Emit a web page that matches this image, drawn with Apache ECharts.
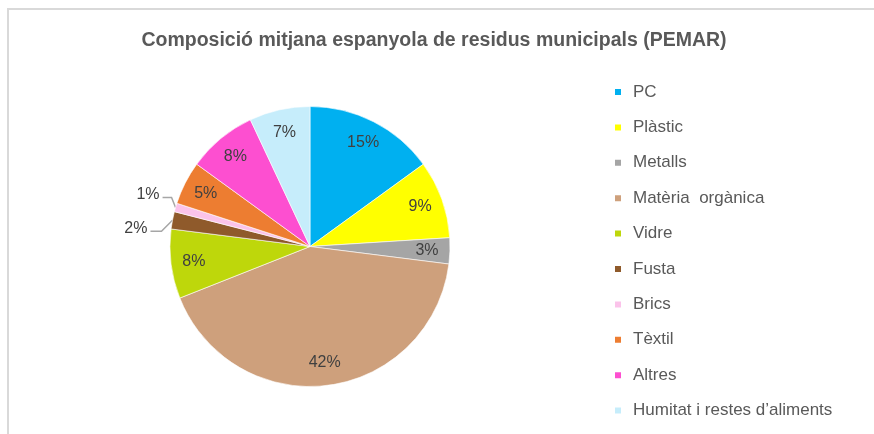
<!DOCTYPE html>
<html>
<head>
<meta charset="utf-8">
<script src="https://cdn.jsdelivr.net/npm/echarts@6/dist/echarts.min.js"></script>
<style>
  html, body { margin: 0; padding: 0; background: #fff; }
  #chart { width: 874px; height: 434px; }
</style>
</head>
<body>
<div id="chart"></div>
<script>
// categories i valors (%)
var categories = ['PC', 'Plàstic', 'Metalls', 'Matèria  orgànica', 'Vidre', 'Fusta', 'Brics', 'Tèxtil', 'Altres', 'Humitat i restes d\u2019aliments'];
var values = [15, 9, 3, 42, 8, 2, 1, 5, 8, 7];
var colors = ['#00b0f0', '#ffff00', '#a5a5a5', '#cea07c', '#bed70b', '#8f5a2b', '#fbc3ea', '#ed7d31', '#fd4fd0', '#c6edfb'];
// slices with the label outside
var outsideLabels = ['Fusta', 'Brics'];

var chart = echarts.init(document.getElementById('chart'));

var center = [310, 246.5];
var fontFamily = '"Liberation Sans", Arial, sans-serif';

var sliceData = categories.map(function (name, i) {
  return { name: name, value: values[i], itemStyle: { color: colors[i] } };
});

var labelData = categories.map(function (name, i) {
  var outside = outsideLabels.indexOf(name) >= 0;
  return {
    name: name,
    value: values[i],
    label: { position: outside ? 'outside' : 'inside' },
    labelLine: { show: outside }
  };
});

// leader line for the two small slices: bend offset from the slice edge, then horizontal length
var leaderBend = {
  'Brics': [-4, -10, 9],
  'Fusta': [-11, 11, 11]
};

chart.setOption({
  animation: false,
  title: {
    text: 'Composició mitjana espanyola de residus municipals (PEMAR)',
    left: 429,
    textAlign: 'center',
    top: 26,
    textStyle: {
      fontFamily: fontFamily,
      fontSize: 19.5,
      fontWeight: 'bold',
      color: '#595959'
    }
  },
  legend: {
    orient: 'vertical',
    left: 608,
    top: 77,
    itemWidth: 8,
    itemHeight: 8,
    itemGap: 15.4,
    icon: 'rect',
    selectedMode: false,
    data: categories,
    textStyle: {
      fontFamily: fontFamily,
      fontSize: 17,
      color: '#595959',
      lineHeight: 20,
      padding: [0, 0, 0, 6]
    }
  },
  graphic: [
    { type: 'line', shape: { x1: 8, y1: 9, x2: 874, y2: 9 }, style: { stroke: '#d9d9d9', lineWidth: 2 } },
    { type: 'line', shape: { x1: 8, y1: 8, x2: 8, y2: 434 }, style: { stroke: '#d9d9d9', lineWidth: 2 } }
  ],
  series: [
    {
      type: 'pie',
      center: center,
      radius: 140,
      startAngle: 90,
      clockwise: true,
      silent: true,
      label: { show: false },
      labelLine: { show: false },
      itemStyle: { borderColor: '#ffffff', borderWidth: 0.6 },
      data: sliceData
    },
    {
      // transparent ring used only to place the % labels
      type: 'pie',
      center: center,
      radius: [88, 140],
      startAngle: 90,
      clockwise: true,
      silent: true,
      itemStyle: { color: 'rgba(0,0,0,0)', borderWidth: 0 },
      label: {
        show: true,
        formatter: '{c}%',
        fontFamily: fontFamily,
        fontSize: 16,
        color: '#404040'
      },
      labelLine: {
        length: 10,
        length2: 10,
        lineStyle: { color: '#a6a6a6', width: 1.5 }
      },
      labelLayout: function (params) {
        var name = categories[params.dataIndex];
        var bend = leaderBend[name];
        if (!bend || !params.labelLinePoints) {
          return {};
        }
        var p0 = params.labelLinePoints[0];
        var p1 = [p0[0] + bend[0], p0[1] + bend[1]];
        var p2 = [p1[0] - bend[2], p1[1]];
        return {
          x: p2[0] - 3,
          y: p2[1] - 3,
          align: 'right',
          verticalAlign: 'middle',
          labelLinePoints: [p0, p1, p2]
        };
      },
      data: labelData
    }
  ]
});
</script>
</body>
</html>
